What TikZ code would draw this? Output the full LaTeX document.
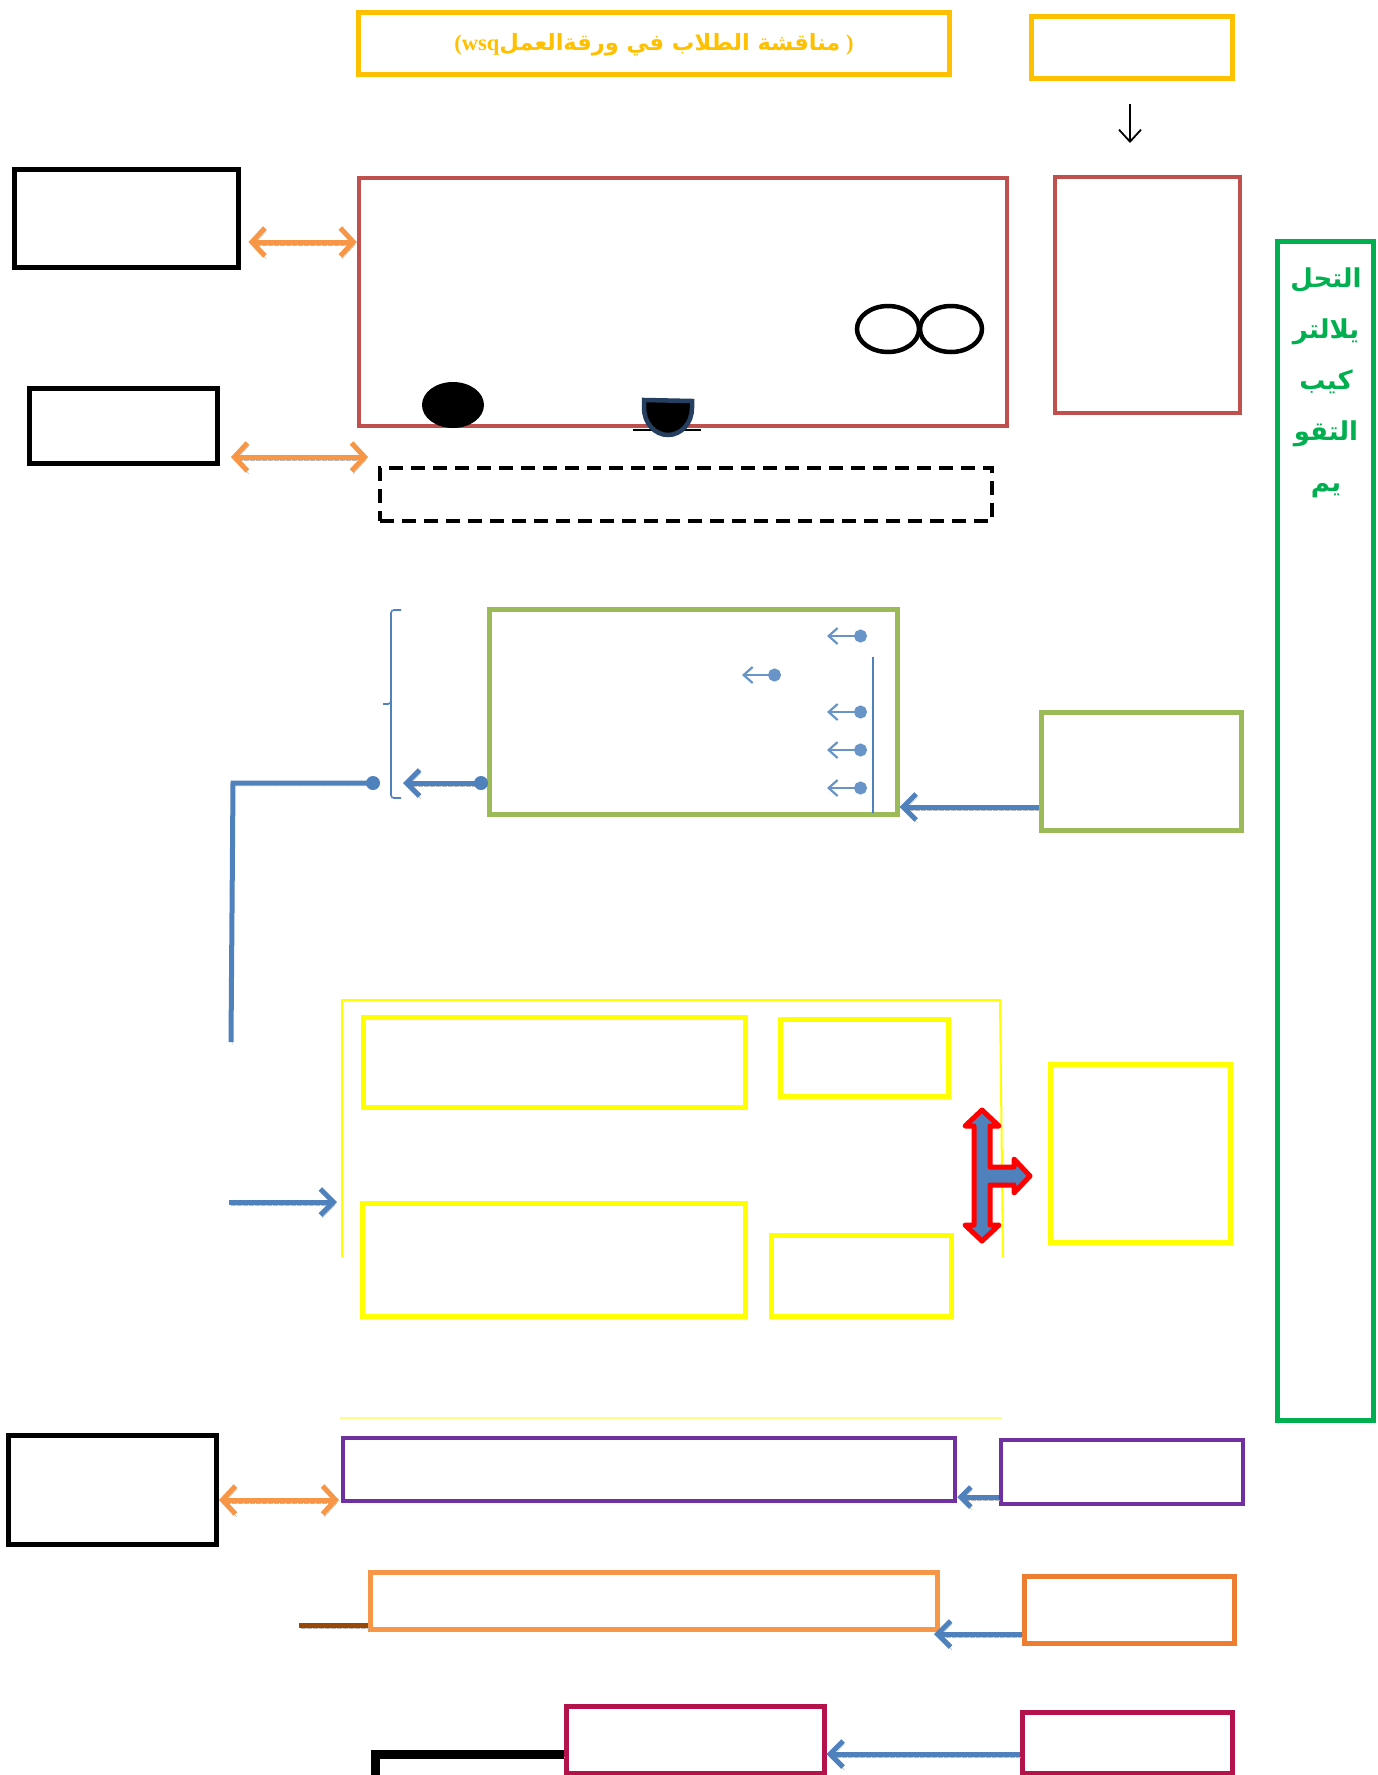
\documentclass[tikz,border=0pt]{standalone}
\usepackage{fontspec}
\usetikzlibrary{arrows.meta,fit}
\TeXXeTstate=1
\newfontfamily\arabicfont[Script=Arabic]{DejaVu Sans}
\newfontfamily\serifb{Liberation Serif}
\definecolor{goldA}{HTML}{FFC000}
\definecolor{redA}{HTML}{C0504D}
\definecolor{olive}{HTML}{9BBB59}
\definecolor{greenV}{HTML}{00B050}
\definecolor{blueA}{HTML}{4F81BD}
\definecolor{orangeA}{HTML}{F79646}
\definecolor{orangeB}{HTML}{ED7D31}
\definecolor{purpleA}{HTML}{7030A0}
\definecolor{crimson}{HTML}{B3124B}
\definecolor{brownA}{HTML}{974706}
\definecolor{yellowA}{HTML}{FFFF00}
\definecolor{yellowL}{HTML}{FFFF88}
\definecolor{navyA}{HTML}{243F60}
\tikzset{
  bx/.style={draw=#1, line width=5pt, inner sep=0pt},
  shad/.style={preaction={draw, gray!55, densely dotted, transform canvas={shift={(1.5pt,-3pt)}}}},
  dbl/.style={line width=5pt, orangeA, shad, {Straight Barb[length=13pt,width=28pt]}-{Straight Barb[length=13pt,width=28pt]}},
  bluearr/.style={line width=5pt, blueA, shad, -{Straight Barb[length=13pt,width=26pt]}},
  thinarr/.style={line width=2.2pt, blueA!85, {Straight Barb[length=9pt,width=16pt]}-{Circle[length=13pt,width=13pt]}},
}
\begin{document}
\begin{tikzpicture}[x=1pt,y=-1pt]
\useasboundingbox (0,0) rectangle (1378,1775);
\fill[white] (0,0) rectangle (1378,1775);

% ---- top
\node[bx=goldA, fit={(358,12) (949,74)}] (title) {};
\node[goldA, inner sep=0pt, font=\bfseries\fontsize{22.5}{27}\selectfont] (titletext) at (654,45)
  {\serifb(wsq\arabicfont\beginR مناقشة الطلاب في ورقةالعمل\endR\serifb{} )};
\node[bx=goldA, fit={(1031,16) (1232,78)}] (gold2) {};
\coordinate (downA) at (1130,104);
\coordinate (downB) at (1130,143);
\draw[line width=1.8pt, -{Straight Barb[length=12pt,width=22pt]}] (downA) -- (downB);

% ---- red boxes
\node[bx=redA, line width=4.5pt, fit={(359,178) (1007,426)}] (redbig) {};
\node[bx=redA, line width=4.5pt, fit={(1055,177) (1240,413)}] (redright) {};
\node[bx=black, fit={(14,169) (238,267)}] (blk1) {};
\node[bx=black, fit={(29,388) (217,463)}] (blk2) {};
\draw[dbl] (blk1.east |- 0,242) ++(8,0) -- (redbig.west |- 0,242);
\draw[dbl] (231,457) -- (368,457);
\node[draw=black, line width=4pt, dash pattern=on 14pt off 8pt, inner sep=0pt, fit={(380,468) (992,521)}] (dashbox) {};

% shapes inside red box
\fill[black] (453,405) ellipse[x radius=31, y radius=23];
\draw[line width=1.5pt] (633,430) -- (701,430);
\draw[fill=black, draw=navyA, line width=4.5pt] (644,400) -- (692,401) -- (692,408) arc[start angle=0,end angle=180,x radius=24,y radius=27] -- cycle;
\draw[line width=4.5pt] (888,329) ellipse[x radius=31, y radius=23];
\draw[line width=4.5pt] (951,329) ellipse[x radius=31, y radius=23];

% ---- green vertical
\node[bx=greenV, fit={(1277,241) (1373,1420)}] (greenV) {};
\node[greenV, align=center, inner sep=0pt, anchor=north,
      font={\arabicfont\bfseries\fontsize{26}{51}\selectfont}] (gtext) at (1326,268)
  {\beginR التحل\endR\\ \beginR يلالتر\endR\\ \beginR كيب\endR\\ \beginR التقو\endR\\ \beginR يم\endR};

% ---- green boxes
\node[bx=olive, fit={(489,609) (897,814)}] (gbox) {};
\node[bx=olive, fit={(1041,712) (1241,830)}] (gright) {};
\draw[bluearr] (gright.west |- 0,807) -- (gbox.east |- 0,807);
\draw[line width=1.8pt, blueA] (873,657) -- (873,813);
\draw[thinarr] (827,636) -- (867,636);
\draw[thinarr] (742,675) -- (781,675);
\draw[thinarr] (827,712) -- (867,712);
\draw[thinarr] (827,750) -- (867,750);
\draw[thinarr] (827,788) -- (867,788);
% bracket
\draw[blueA, line width=1.6pt, rounded corners=3pt] (401,610) -| (391,704) -- (383,704);
\draw[blueA, line width=1.6pt, rounded corners=3pt] (391,700) |- (401,798);
% arrow out of green box
\coordinate (gdot) at (481,783);
\draw[line width=5pt, blueA, shad, -{Straight Barb[length=13pt,width=26pt]}] (gdot) -- (403,783);
\fill[blueA] (gdot) circle[radius=7];
\coordinate (ldot) at (373,783);
\coordinate (lcorner) at (233,783);
\coordinate (lend) at (231,1042);
\draw[line width=5pt, blueA, shad] (ldot) -- (lcorner) -- (lend);
\fill[blueA] (ldot) circle[radius=7];

% ---- yellow section
\draw[yellowA, line width=2pt] (342,1257) -- (342,1000) -- (1000,1000) -- (1003,1257);
\draw[yellowL, line width=2pt] (340,1418) -- (1002,1418);
\node[bx=yellowA, fit={(363,1017) (745,1107)}] (ya) {};
\node[bx=yellowA, fit={(780,1019) (948,1096)}] (yb) {};
\node[bx=yellowA, fit={(362,1203) (745,1316)}] (yc) {};
\node[bx=yellowA, fit={(771,1235) (951,1316)}] (yd) {};
\node[bx=yellowA, fit={(1050,1064) (1230,1242)}] (ye) {};
\coordinate (yin) at (229,1202);
\draw[bluearr] (yin) -- (337,1202);
% T arrow
\draw[fill=blueA, draw=red, line width=5pt, line join=round]
  (982,1110) -- (999,1126) -- (990,1126) -- (990,1167) -- (1014,1167) -- (1014,1159)
  -- (1030,1176) -- (1014,1193) -- (1014,1185) -- (990,1185) -- (990,1225)
  -- (999,1225) -- (982,1241) -- (965,1225) -- (974,1225) -- (974,1126)
  -- (965,1126) -- cycle;

% ---- purple
\node[bx=purpleA, line width=4.5pt, fit={(343,1438) (955,1501)}] (pbox) {};
\node[bx=purpleA, line width=4.5pt, fit={(1001,1440) (1243,1504)}] (pright) {};
\draw[line width=5pt, blueA, shad, -{Straight Barb[length=10pt,width=20pt]}] (pright.west |- 0,1497) -- (pbox.east |- 0,1497);
\node[bx=black, fit={(8,1435) (216,1544)}] (blk3) {};
\draw[dbl] (219,1500) -- (339,1500);

% ---- orange
\node[bx=orangeA, fit={(370,1572) (937,1629)}] (obox) {};
\node[bx=orangeB, fit={(1024,1576) (1234,1643)}] (oright) {};
\draw[bluearr] (oright.west |- 0,1634) -- (934,1634);
\coordinate (bl) at (299,1625);
\draw[line width=5pt, brownA, shad] (bl) -- (obox.west |- 0,1625);

% ---- crimson
\node[bx=crimson, fit={(566,1706) (824,1773)}] (cbox) {};
\node[bx=crimson, fit={(1022,1712) (1232,1773)}] (cright) {};
\draw[bluearr] (cright.west |- 0,1754) -- (cbox.east |- 0,1754);
\coordinate (lk) at (375,1790);
\draw[line width=9pt, black, shad] (lk) -- (375,1754) -- (cbox.west |- 0,1754);
\end{tikzpicture}
\end{document}
